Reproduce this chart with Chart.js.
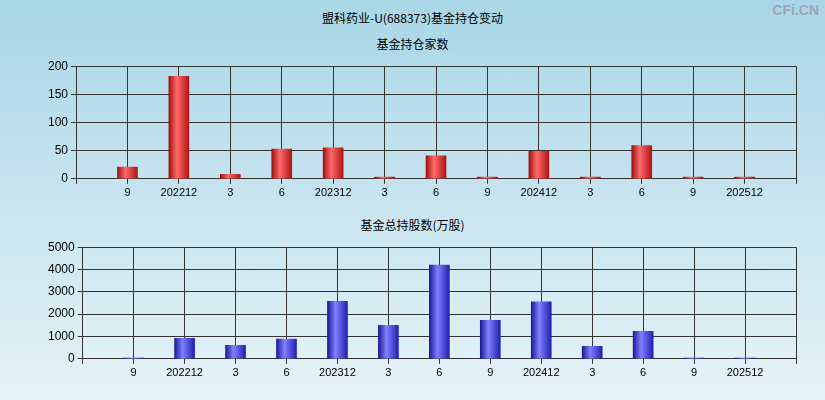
<!DOCTYPE html>
<html><head><meta charset="utf-8">
<script src="https://cdn.jsdelivr.net/npm/chart.js@4"></script>
<style>
body{margin:0;width:825px;height:400px;overflow:hidden;background:linear-gradient(#a9d6e6,#e6f3f8);font-family:"Noto Sans CJK SC",sans-serif;position:relative}
.t{position:absolute;left:0;width:825px;text-align:center;font-size:12px;color:#000}
#c1{position:absolute;left:0;top:56px}
#c2{position:absolute;left:0;top:237px}
.wm{position:absolute;right:6px;top:2px;font:bold 14px Arial;color:#9aa9b2}
</style></head><body>
<div class="t" style="top:9px">盟科药业-U(688373)基金持仓变动</div>
<div class="t" style="top:35px">基金持仓家数</div>
<div class="t" style="top:216px">基金总持股数(万股)</div>
<div class="wm">CFi.CN</div>
<canvas id="c1" width="825" height="147"></canvas>
<canvas id="c2" width="825" height="146"></canvas>
<script>
const labels=['','9','202212','3','6','202312','3','6','9','202412','3','6','9','202512',''];
const holders=[null,21,182,8,53,55,3,41,3,49,3,59,3,3,null];
const shares=[null,30,920,600,880,2580,1500,4200,1720,2550,560,1230,30,30,null];
function grad(c1,c2,c3){return ctx=>{const ch=ctx.chart;if(!ch.chartArea)return c1;const x=ch.scales.x.getPixelForValue(ctx.dataIndex);const g=ch.ctx.createLinearGradient(x-10,0,x+10,0);g.addColorStop(0,c1);g.addColorStop(0.4,c2);g.addColorStop(1,c3);return g;};}
function mk(id,data,max,step,cols,left){
new Chart(document.getElementById(id),{type:'bar',data:{labels,datasets:[{data,backgroundColor:grad(...cols),barThickness:20,borderWidth:0}]},
options:{responsive:false,animation:false,layout:{padding:{left:left,right:29,top:8}},plugins:{legend:{display:false},tooltip:{enabled:false}},
scales:{x:{offset:false,grid:{offset:false,color:'#333',drawTicks:true,tickLength:5},border:{color:'#333'},ticks:{color:'#000',font:{size:11},maxRotation:0,autoSkip:false}},
y:{min:0,max:max,ticks:{stepSize:step,color:'#000',font:{size:12},callback:v=>String(v)},grid:{color:'#333',tickLength:5},border:{color:'#333'}}}}});}
mk('c1',holders,200,50,['#a01010','#ff6a6a','#b01515'],45);
mk('c2',shares,5000,1000,['#1a1a9a','#8080ff','#2020b0'],45);
</script></body></html>
